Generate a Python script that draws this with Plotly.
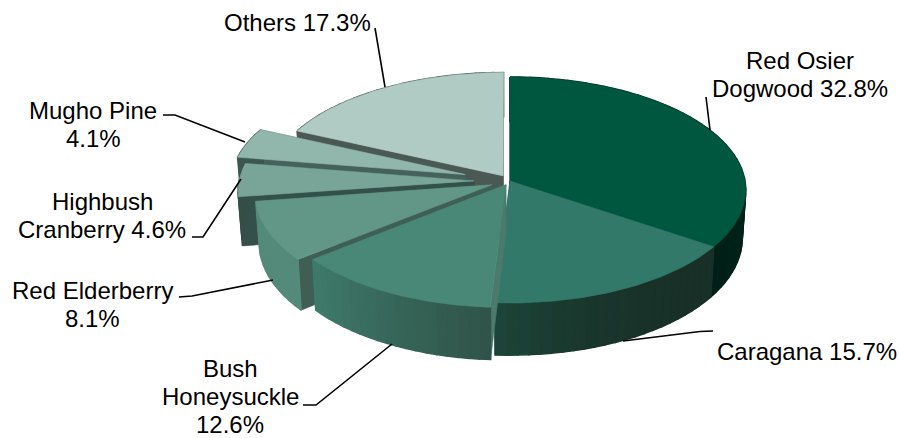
import math
import plotly.graph_objects as go

# ---- data ----
categories = ["Red Osier Dogwood", "Caragana", "Bush Honeysuckle", "Red Elderberry",
              "Highbush Cranberry", "Mugho Pine", "Others"]
values = [32.8, 15.7, 12.6, 8.1, 4.6, 4.1, 17.3]
label_lines = [["Red Osier", "Dogwood 32.8%"], ["Caragana 15.7%"], ["Bush", "Honeysuckle", "12.6%"],
               ["Red Elderberry", "8.1%"], ["Highbush", "Cranberry 4.6%"], ["Mugho Pine", "4.1%"],
               ["Others 17.3%"]]

# ---- presentation ----
explode = [0, 0, 0.038, 0.084, 0.153, 0.2, 0.055]
top_colors = ["#00573f", "#33796a", "#498777", "#629787", "#78a598", "#91b6ac", "#b0cbc3"]
wall_from = [(0, 44, 31), (24, 48, 40), (48, 84, 74), (84, 138, 122), (52, 78, 72), (60, 86, 80), (75, 88, 83)]
wall_to = [(0, 32, 23), (28, 68, 56), (62, 122, 106), (84, 138, 122), (52, 78, 72), (60, 86, 80), (75, 88, 83)]
wall_gamma = [1, 2.5, 1, 1, 1, 1, 1]
cut_colors = ["#002a1e", "#183a30", "#4a7a6c", "#3f5f55", "#34504a", "#44625b", "#4b5955"]
draw_order = [6, 5, 4, 3, 0, 1, 2]
CX, CY, R, RY, K, DEPTH, SHRINK = 510, 181, 235, 112.3, 0.0796, 48, 0.985
label_pos = [(800, 60), (807, 351), (230, 368), (92, 290), (102, 201), (93, 110), (297, 22)]
LINE_GAP = 28
leaders = [[(706, 97), (710, 130)],
           [(713, 331), (700, 331.5), (623, 341)],
           [(303, 405), (316, 405), (392, 344)],
           [(179, 297), (192, 296), (273, 280)],
           [(192, 237), (203, 237), (241, 179)],
           [(163, 115), (175, 115), (245, 142)],
           [(375, 28), (385, 87)]]


def project(u, v, bottom=False):
    s = 1 / (1 - K * v)
    x = CX + R * u * s
    y = CY + RY * v * s
    if bottom:
        x = CX + (x - CX) * SHRINK
        y += DEPTH * s
    return x, y


def disc(theta, e, mid, r=1.0):
    u = r * math.sin(theta) + e * math.sin(mid)
    v = -r * math.cos(theta) - e * math.cos(mid)
    return u, v


def poly(points, color, name, width=0.6):
    xs = [p[0] for p in points] + [points[0][0]]
    ys = [p[1] for p in points] + [points[0][1]]
    return go.Scatter(x=xs, y=ys, mode="lines", fill="toself", fillcolor=color,
                      line=dict(color=color, width=width), hoverinfo="skip", name=name, showlegend=False)


total = sum(values)
spans = []
acc = 0
for val in values:
    spans.append((acc / total * 2 * math.pi, (acc + val) / total * 2 * math.pi))
    acc += val

fig = go.Figure()
for i in draw_order:
    a0, a1 = spans[i]
    mid = (a0 + a1) / 2
    e = explode[i]
    apex = disc(0, e, mid, r=0)
    # cut faces
    for a in (a0, a1):
        edge = disc(a, e, mid)
        fig.add_trace(poly([project(*apex), project(*edge), project(*edge, True), project(*apex, True)],
                           cut_colors[i], categories[i]))
    # outer wall with stepped shading
    n = max(4, int((a1 - a0) / math.radians(2.5)))
    for j in range(n):
        t0 = a0 + (a1 - a0) * j / n
        t1 = a0 + (a1 - a0) * (j + 1) / n
        f = (j / max(1, n - 1)) ** wall_gamma[i]
        c = tuple(round(wall_from[i][k] + (wall_to[i][k] - wall_from[i][k]) * f) for k in range(3))
        p0, p1 = disc(t0, e, mid), disc(t1, e, mid)
        fig.add_trace(poly([project(*p0), project(*p1), project(*p1, True), project(*p0, True)],
                           "rgb(%d,%d,%d)" % c, categories[i], width=1.5))
    # top surface
    n = 60
    pts = [project(*apex)]
    for j in range(n + 1):
        pts.append(project(*disc(a0 + (a1 - a0) * j / n, e, mid)))
    fig.add_trace(poly(pts, top_colors[i], categories[i]))

for path in leaders:
    fig.add_trace(go.Scatter(x=[p[0] for p in path], y=[p[1] for p in path], mode="lines",
                             line=dict(color="#000000", width=1.6), hoverinfo="skip", showlegend=False))

annotations = []
for lines, p in zip(label_lines, label_pos):
    for k, line in enumerate(lines):
        annotations.append(dict(x=p[0], y=p[1] + k * LINE_GAP, text=line, showarrow=False, xref="x", yref="y",
                                xanchor="center", yanchor="middle", align="center",
                                font=dict(family="Liberation Sans, Arial, sans-serif", size=24, color="#000000")))

fig.update_layout(width=899, height=438, margin=dict(l=0, r=0, t=0, b=0),
                  paper_bgcolor="white", plot_bgcolor="white", showlegend=False,
                  annotations=annotations,
                  xaxis=dict(range=[0, 899], visible=False, fixedrange=True),
                  yaxis=dict(range=[438, 0], visible=False, fixedrange=True))
fig.write_html("out.html", config={"displayModeBar": False},
               post_script="document.body.style.margin='0';document.body.style.overflow='hidden';")
